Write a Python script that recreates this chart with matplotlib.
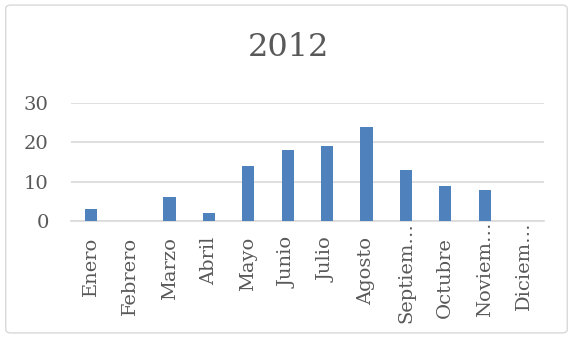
import matplotlib
matplotlib.use("Agg")
import matplotlib.pyplot as plt
from matplotlib.patches import FancyBboxPatch
from matplotlib.transforms import ScaledTranslation

meses = ["Enero", "Febrero", "Marzo", "Abril", "Mayo", "Junio", "Julio",
         "Agosto", "Septiem\u2026", "Octubre", "Noviem\u2026", "Diciem\u2026"]
valores = [3, 0, 6, 2, 14, 18, 19, 24, 13, 9, 8, 0]
yticks = [0, 10, 20, 30]

gris = "#595959"
plt.rcParams["font.family"] = ["DejaVu Serif"]

fig = plt.figure(figsize=(5.73, 3.38), dpi=100)
# marco del grafico
marco = FancyBboxPatch((0.01, 0.015), 0.98, 0.97, boxstyle="round,pad=0,rounding_size=0.01",
                       transform=fig.transFigure, facecolor="white", edgecolor="#D9D9D9",
                       lw=1, zorder=-5)
fig.patches.append(marco)

ax = fig.add_axes([0.124, 0.346, 0.825, 0.349])
x = range(len(meses))
ax.bar(x, valores, width=0.31, color="#4F81BD", zorder=3)
ax.set_xlim(-0.5, len(meses) - 0.5)
ax.set_ylim(0, 30)
ax.set_yticks(yticks)
ax.set_xticks(list(x))
ax.set_xticklabels(meses, rotation=90, fontsize=14, color=gris)
ax.tick_params(axis="y", labelsize=14, colors=gris, length=0, pad=16)
ax.tick_params(axis="x", length=0, pad=11.5)
ax.yaxis.grid(True, color="#D9D9D9", lw=1.2, zorder=0)
for s in ["top", "right", "left"]:
    ax.spines[s].set_visible(False)
ax.spines["bottom"].set_color("#D9D9D9")
ax.spines["bottom"].set_linewidth(1.2)
ax.patch.set_alpha(0)

# las etiquetas recortadas suben hasta el eje, como en Excel
for lbl in ax.get_xticklabels():
    if lbl.get_text().endswith("\u2026"):
        lbl.set_transform(lbl.get_transform() + ScaledTranslation(0, 11 / 72, fig.dpi_scale_trans))

fig.text(0.503, 0.859, "2012", ha="center", va="center", fontsize=23, color=gris)

fig.savefig("out.png", dpi=100)
